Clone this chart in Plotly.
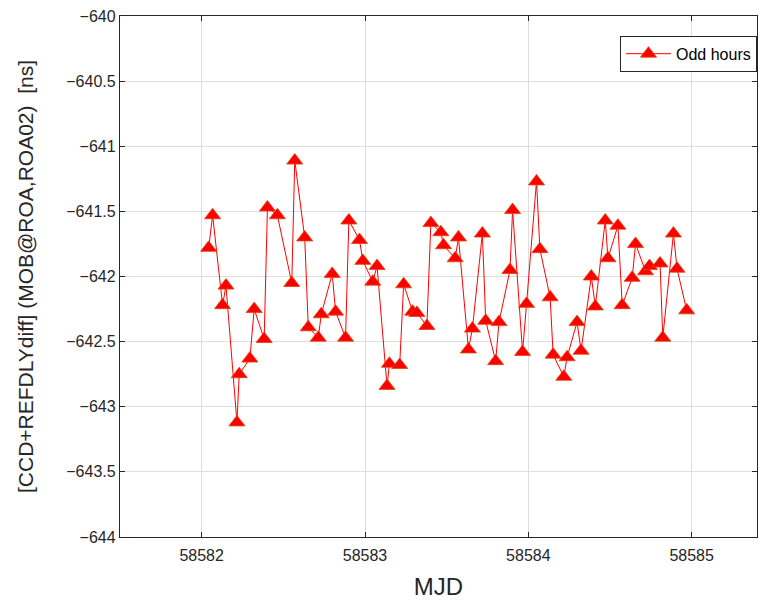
import plotly.graph_objects as go

# CCD + REFDLY difference, MOB@ROA vs ROA02, odd-hour tracks
mjd = [
    58582.0427, 58582.0671, 58582.1281, 58582.1489, 58582.2160, 58582.2300,
    58582.2953, 58582.3215, 58582.3826, 58582.4027, 58582.4637, 58582.5516,
    58582.5699, 58582.6309, 58582.6528, 58582.7139, 58582.7322, 58582.7993,
    58582.8200, 58582.8810, 58582.9012, 58582.9664, 58582.9866, 58583.0476,
    58583.0738, 58583.1348, 58583.1495, 58583.2123, 58583.2367, 58583.2916,
    58583.3179, 58583.3789, 58583.4033, 58583.4643, 58583.4808, 58583.5522,
    58583.5723, 58583.6333, 58583.6577, 58583.7187, 58583.7389, 58583.7999,
    58583.8206, 58583.8877, 58583.9036, 58583.9646, 58583.9890, 58584.0500,
    58584.0708, 58584.1336, 58584.1519, 58584.2172, 58584.2373, 58584.2984,
    58584.3228, 58584.3856, 58584.4100, 58584.4710, 58584.4875, 58584.5485,
    58584.5748, 58584.6358, 58584.6565, 58584.7175, 58584.7419, 58584.8066,
    58584.8231, 58584.8884, 58584.9103, 58584.9695,
]
diff_ns = [
    -641.78, -641.53, -642.22, -642.07, -643.12, -642.75,
    -642.63, -642.25, -642.48, -641.47, -641.53, -642.05,
    -641.11, -641.70, -642.39, -642.47, -642.29, -641.98,
    -642.27, -642.47, -641.57, -641.72, -641.88, -642.04,
    -641.92, -642.84, -642.67, -642.68, -642.06, -642.27,
    -642.28, -642.38, -641.59, -641.66, -641.76, -641.86,
    -641.70, -642.56, -642.40, -641.67, -642.34, -642.65,
    -642.35, -641.95, -641.49, -642.58, -642.21, -641.27,
    -641.79, -642.16, -642.60, -642.77, -642.62, -642.35,
    -642.57, -642.00, -642.23, -641.57, -641.86, -641.61,
    -642.22, -642.01, -641.75, -641.96, -641.92, -641.90,
    -642.47, -641.67, -641.94, -642.26,
]

x_ticks = [58582, 58583, 58584, 58585]
x_tick_labels = ["58582", "58583", "58584", "58585"]
y_ticks = [-644, -643.5, -643, -642.5, -642, -641.5, -641, -640.5, -640]
y_tick_labels = ["\u2212644", "\u2212643.5", "\u2212643", "\u2212642.5", "\u2212642",
                 "\u2212641.5", "\u2212641", "\u2212640.5", "\u2212640"]

FONT = "Liberation Sans, Arial, sans-serif"
INK = "#262626"

fig = go.Figure()
fig.add_trace(go.Scatter(
    x=mjd, y=diff_ns, mode="lines+markers", name="Odd hours",
    line=dict(color="#ff0000", width=1),
    marker=dict(symbol="triangle-up", size=14, color="#ff0000",
                line=dict(color="#d9480f", width=0.8)),
))

axis_common = dict(
    showline=True, linecolor=INK, linewidth=1.3, mirror="ticks",
    ticks="inside", ticklen=5, tickcolor=INK,
    showgrid=True, gridcolor="#dedede", gridwidth=1,
    zeroline=False, automargin=False,
    tickfont=dict(family=FONT, size=16, color=INK),
)

fig.update_xaxes(
    range=[58581.5, 58585.4], tickvals=x_ticks, ticktext=x_tick_labels,
    ticklabelstandoff=4,
    title=dict(text="MJD", font=dict(family=FONT, size=24, color=INK), standoff=14),
    **axis_common,
)
fig.update_yaxes(
    range=[-644, -640], tickvals=y_ticks, ticktext=y_tick_labels,
    title=dict(text="[CCD+REFDLYdiff] (MOB@ROA,ROA02)  [ns]",
               font=dict(family=FONT, size=21, color=INK), standoff=26),
    **axis_common,
)

fig.update_layout(
    width=768, height=601,
    margin=dict(l=120, r=11, t=16, b=64),
    paper_bgcolor="white", plot_bgcolor="white",
    showlegend=True,
    legend=dict(
        x=1.0, y=0.962, xanchor="right", yanchor="top",
        bgcolor="white", bordercolor=INK, borderwidth=1,
        font=dict(family=FONT, size=16, color="black"),
        itemwidth=45, tracegroupgap=0,
    ),
)

fig.write_html("out.html")
